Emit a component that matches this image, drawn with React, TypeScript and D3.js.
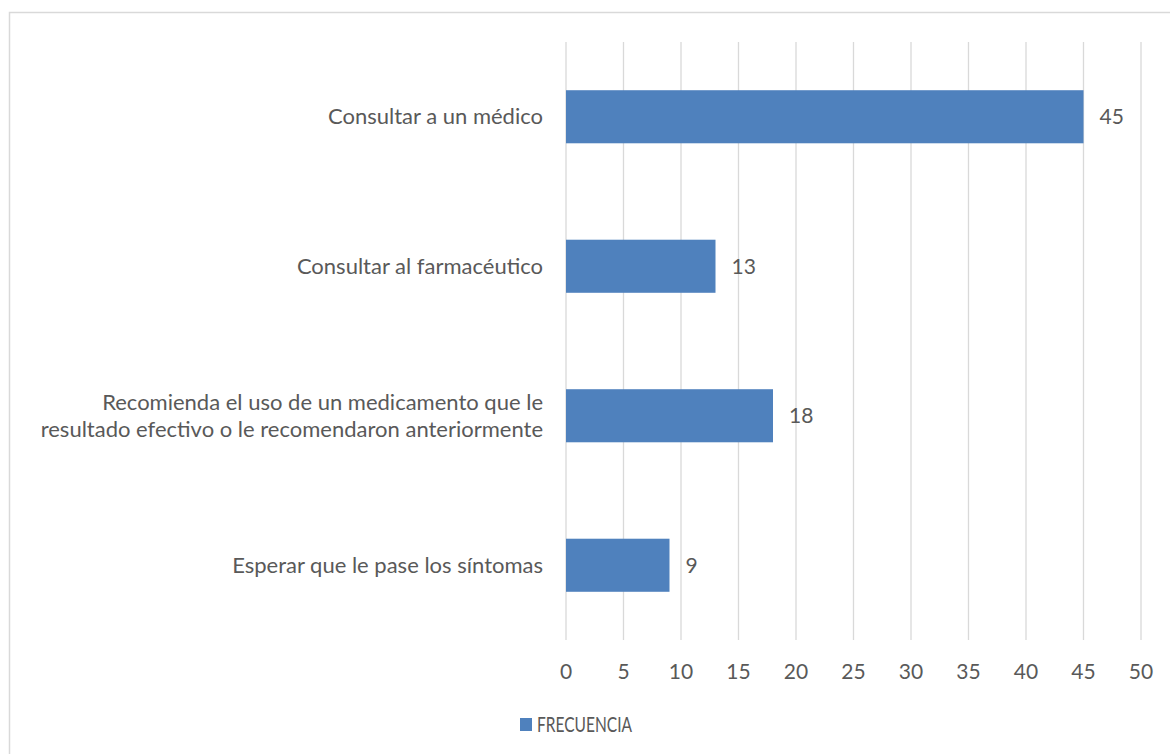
import React from "react";
import * as d3 from "d3";

const categories: string[][] = [
  ["Consultar a un médico"],
  ["Consultar al farmacéutico"],
  ["Recomienda el uso de un medicamento que le", "resultado efectivo o le recomendaron anteriormente"],
  ["Esperar que le pase los síntomas"],
];
const values: number[] = [45, 13, 18, 9];
const ticks: number[] = [0, 5, 10, 15, 20, 25, 30, 35, 40, 45, 50];
const seriesName = "FRECUENCIA";

const W = 1170;
const H = 754;
const FONT = "Lato, 'Open Sans', sans-serif";
const TEXT = "#595959";
const BAR = "#4F81BD";

export default function App() {
  const x = d3.scaleLinear().domain([0, 50]).range([566, 1141]);
  const y = d3
    .scaleBand<number>()
    .domain(categories.map((_, i) => i))
    .range([42, 640])
    .paddingInner(0.645)
    .paddingOuter(0.3225);
  const lineH = 27;
  return (
    <svg
      width={W}
      height={H}
      style={{ position: "absolute", left: 0, top: 0, background: "#fff" }}
      fontFamily={FONT}
    >
      <rect x={9.5} y={12.5} width={W + 10} height={H + 10} fill="#fff" stroke="#D9D9D9" strokeWidth={1.5} />
      {ticks.map((t) => (
        <line key={"g" + t} x1={x(t)} x2={x(t)} y1={42} y2={640} stroke="#D9D9D9" strokeWidth={1.3} />
      ))}
      {values.map((v, i) => (
        <rect key={"b" + i} x={x(0)} y={y(i)!} width={x(v) - x(0)} height={y.bandwidth()} fill={BAR} />
      ))}
      {values.map((v, i) => (
        <text
          key={"v" + i}
          x={x(v) + 16}
          y={y(i)! + y.bandwidth() / 2}
          dy="0.35em"
          fontSize={21}
          fill={TEXT}
        >
          {v}
        </text>
      ))}
      {categories.map((lines, i) => {
        const cy = y(i)! + y.bandwidth() / 2;
        const start = cy - ((lines.length - 1) * lineH) / 2;
        return (
          <text key={"c" + i} textAnchor="end" fontSize={22} fill={TEXT}>
            {lines.map((l, j) => (
              <tspan key={j} x={543} y={start + j * lineH} dy="0.35em">
                {l}
              </tspan>
            ))}
          </text>
        );
      })}
      {ticks.map((t) => (
        <text key={"t" + t} x={x(t)} y={672} dy="0.35em" textAnchor="middle" fontSize={21} fill={TEXT}>
          {t}
        </text>
      ))}
      <rect x={520} y={718} width={12} height={13} fill={BAR} />
      <text
        x={537}
        y={725}
        dy="0.35em"
        fontSize={21}
        fill={TEXT}
        textLength={95}
        lengthAdjust="spacingAndGlyphs"
      >
        {seriesName}
      </text>
    </svg>
  );
}
